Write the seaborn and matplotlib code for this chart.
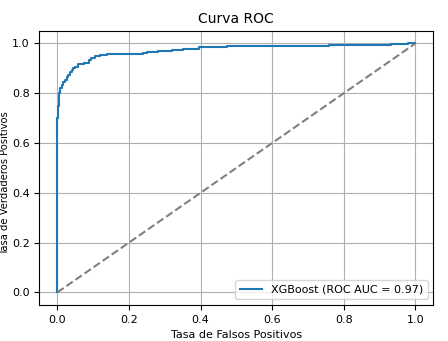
import matplotlib
matplotlib.use("Agg")
import matplotlib.pyplot as plt
import seaborn as sns

# ROC curve points
fpr = [0.0, 0.0, 0.0, 0.002, 0.004, 0.006, 0.008, 0.012, 0.016, 0.021, 0.026, 0.031,
       0.036, 0.040, 0.044, 0.050, 0.058, 0.066, 0.074, 0.081, 0.088, 0.095, 0.105,
       0.119, 0.140, 0.170, 0.200, 0.239, 0.250, 0.280, 0.320, 0.350, 0.397, 0.440,
       0.475, 0.760, 0.933, 0.980, 1.0]
tpr = [0.0, 0.65, 0.70, 0.75, 0.78, 0.80, 0.82, 0.835, 0.845, 0.855, 0.865, 0.875,
       0.885, 0.895, 0.900, 0.905, 0.917, 0.917, 0.920, 0.922, 0.935, 0.942, 0.950,
       0.955, 0.957, 0.958, 0.958, 0.960, 0.964, 0.969, 0.972, 0.978, 0.984, 0.986,
       0.989, 0.992, 0.996, 1.0, 1.0]
diag = [0.0, 1.0]
roc_auc = 0.97

fig = plt.figure(figsize=(4.48, 3.41), dpi=100)
ax = fig.add_axes([0.088, 0.106, 0.879, 0.803])

sns.lineplot(x=fpr, y=tpr, ax=ax, color="#1f77b4", lw=1.5, sort=False,
             estimator=None, drawstyle="steps-post",
             label=f"XGBoost (ROC AUC = {roc_auc:.2f})")
sns.lineplot(x=diag, y=diag, ax=ax, color="gray", linestyle="--", lw=1.5,
             sort=False, estimator=None)

ax.set_xlim(-0.05, 1.05)
ax.set_ylim(-0.05, 1.05)
ax.set_xticks([0.0, 0.2, 0.4, 0.6, 0.8, 1.0])
ax.set_yticks([0.0, 0.2, 0.4, 0.6, 0.8, 1.0])
ax.tick_params(labelsize=8)
ax.set_xlabel("Tasa de Falsos Positivos", fontsize=8)
ax.set_ylabel("Tasa de Verdaderos Positivos", fontsize=7.2)
ax.yaxis.set_label_coords(-0.074, 0.445)
ax.set_title("Curva ROC", fontsize=10)
ax.grid(True)
ax.legend(loc="lower right", fontsize=8)

fig.savefig("out.png", dpi=100)
